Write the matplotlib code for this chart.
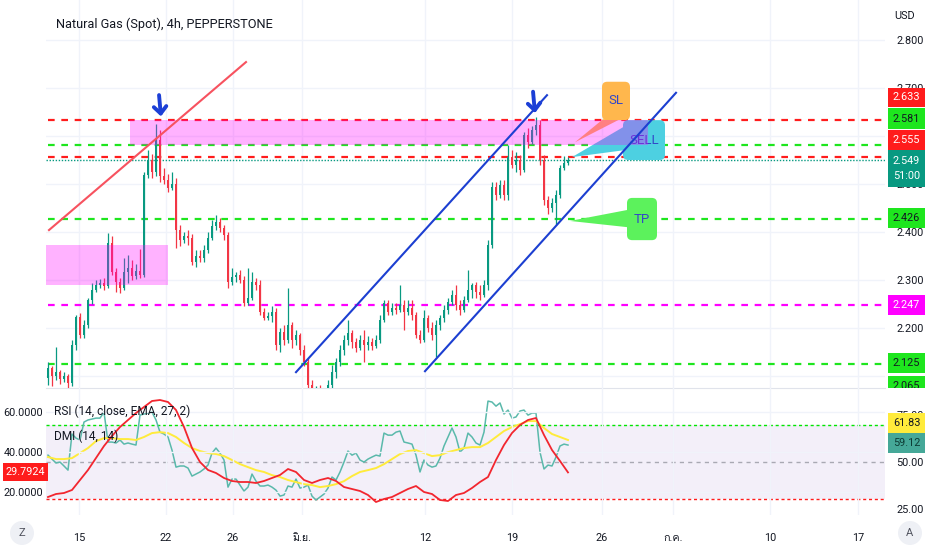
import numpy as np
import matplotlib
matplotlib.use('Agg')
import matplotlib.pyplot as plt
from matplotlib import font_manager
from matplotlib.ft2font import FT2Font
from matplotlib.patches import Rectangle, Polygon, FancyBboxPatch, Ellipse
from matplotlib.transforms import Bbox

# find an installed family that can draw Thai month names
thai_family = None
for fe in font_manager.fontManager.ttflist:
    try:
        if 0x0E21 in FT2Font(fe.fname).get_charmap():
            thai_family = fe.name
            break
    except Exception:
        pass
families = ['Roboto', 'DejaVu Sans', 'Noto Sans']
if thai_family:
    families.append(thai_family)
plt.rcParams['font.family'] = families

# ---- price data (4h candles), open of each bar = previous close ----
first_open = 2.095
closes = [2.116, 2.099, 2.107, 2.093, 2.099, 2.084, 2.164, 2.222, 2.184, 2.205,
          2.257, 2.278, 2.289, 2.293, 2.286, 2.376, 2.316, 2.295, 2.282, 2.316,
          2.324, 2.307, 2.318, 2.309, 2.518, 2.549, 2.524, 2.591, 2.516, 2.507,
          2.491, 2.499, 2.403, 2.382, 2.391, 2.386, 2.336, 2.349, 2.345, 2.361,
          2.386, 2.412, 2.420, 2.407, 2.393, 2.295, 2.305, 2.309, 2.299, 2.251,
          2.262, 2.295, 2.289, 2.232, 2.220, 2.224, 2.232, 2.164, 2.191, 2.174,
          2.205, 2.174, 2.184, 2.153, 2.128, 2.080, 2.060, 2.070, 2.053, 2.066,
          2.080, 2.107, 2.128, 2.153, 2.174, 2.189, 2.170, 2.157, 2.174, 2.164,
          2.170, 2.162, 2.174, 2.216, 2.251, 2.232, 2.241, 2.236, 2.247, 2.232,
          2.241, 2.226, 2.184, 2.174, 2.220, 2.199, 2.184, 2.205, 2.220, 2.236,
          2.253, 2.268, 2.247, 2.236, 2.257, 2.278, 2.289, 2.274, 2.268, 2.289,
          2.372, 2.493, 2.476, 2.497, 2.476, 2.555, 2.539, 2.549, 2.528, 2.601,
          2.586, 2.611, 2.622, 2.549, 2.466, 2.449, 2.459, 2.476, 2.532, 2.543,
          2.549]
highs = [2.128, 2.120, 2.160, 2.111, 2.107, 2.103, 2.174, 2.226, 2.230, 2.216,
         2.262, 2.293, 2.299, 2.301, 2.303, 2.397, 2.391, 2.324, 2.303, 2.345,
         2.351, 2.341, 2.332, 2.364, 2.524, 2.570, 2.561, 2.624, 2.611, 2.532,
         2.520, 2.524, 2.511, 2.414, 2.399, 2.403, 2.395, 2.361, 2.361, 2.372,
         2.399, 2.424, 2.434, 2.428, 2.414, 2.399, 2.324, 2.316, 2.320, 2.307,
         2.324, 2.316, 2.303, 2.299, 2.241, 2.232, 2.245, 2.241, 2.199, 2.205,
         2.282, 2.211, 2.195, 2.189, 2.164, 2.136, 2.091, 2.078, 2.080, 2.074,
         2.091, 2.122, 2.136, 2.164, 2.184, 2.216, 2.195, 2.178, 2.184, 2.195,
         2.182, 2.178, 2.184, 2.226, 2.257, 2.257, 2.251, 2.251, 2.289, 2.257,
         2.257, 2.257, 2.232, 2.195, 2.236, 2.226, 2.211, 2.216, 2.226, 2.247,
         2.262, 2.278, 2.289, 2.257, 2.266, 2.320, 2.293, 2.295, 2.289, 2.299,
         2.382, 2.503, 2.503, 2.507, 2.507, 2.580, 2.570, 2.566, 2.559, 2.607,
         2.616, 2.620, 2.639, 2.632, 2.559, 2.474, 2.470, 2.486, 2.539, 2.557,
         2.555]
lows = [2.080, 2.078, 2.091, 2.082, 2.087, 2.074, 2.078, 2.153, 2.178, 2.178,
        2.199, 2.249, 2.274, 2.282, 2.278, 2.282, 2.309, 2.274, 2.272, 2.278,
        2.293, 2.299, 2.301, 2.303, 2.305, 2.511, 2.511, 2.516, 2.503, 2.499,
        2.482, 2.486, 2.366, 2.370, 2.376, 2.372, 2.330, 2.326, 2.336, 2.336,
        2.355, 2.382, 2.403, 2.399, 2.382, 2.282, 2.289, 2.295, 2.293, 2.245,
        2.247, 2.257, 2.278, 2.226, 2.216, 2.216, 2.211, 2.153, 2.149, 2.164,
        2.168, 2.157, 2.164, 2.143, 2.120, 2.066, 2.049, 2.045, 2.039, 2.043,
        2.053, 2.070, 2.095, 2.120, 2.143, 2.164, 2.157, 2.149, 2.153, 2.128,
        2.153, 2.153, 2.157, 2.168, 2.211, 2.226, 2.226, 2.228, 2.232, 2.195,
        2.226, 2.216, 2.178, 2.168, 2.170, 2.191, 2.174, 2.139, 2.195, 2.211,
        2.228, 2.247, 2.236, 2.226, 2.232, 2.253, 2.262, 2.262, 2.257, 2.264,
        2.278, 2.366, 2.466, 2.470, 2.466, 2.466, 2.532, 2.524, 2.518, 2.524,
        2.574, 2.582, 2.601, 2.539, 2.455, 2.436, 2.441, 2.414, 2.470, 2.528,
        2.539]

# ---- indicators ----
rsi = [53.7, 51.6, 49.5, 50.0, 47.9, 45.7, 65.0, 62.8, 61.8, 71.4,
       72.5, 73.0, 73.5, 73.5, 76.7, 60.7, 60.7, 60.2, 61.8, 59.6,
       60.2, 59.6, 59.1, 75.1, 75.7, 76.2, 76.7, 72.5, 66.0, 65.0,
       63.4, 56.4, 47.3, 47.9, 47.9, 46.8, 42.5, 43.6, 44.7, 46.3,
       48.4, 54.8, 57.5, 54.8, 51.1, 36.6, 40.9, 40.9, 37.7, 34.5,
       36.6, 43.6, 39.8, 37.2, 37.2, 37.7, 36.6, 35.0, 31.8, 32.4,
       37.2, 36.6, 40.9, 36.1, 36.6, 37.7, 31.8, 29.7, 31.3, 32.9,
       36.1, 42.0, 40.4, 44.7, 50.0, 55.9, 53.7, 54.8, 51.1, 50.0,
       51.6, 52.7, 53.7, 53.2, 65.5, 64.4, 64.4, 66.0, 66.6, 60.7,
       60.2, 59.6, 53.7, 44.7, 51.1, 48.4, 47.3, 47.9, 52.1, 58.6,
       63.4, 68.2, 63.4, 55.3, 57.5, 65.5, 63.4, 60.2, 59.1, 66.0,
       82.6, 82.1, 79.9, 81.6, 75.7, 77.8, 73.5, 74.1, 77.3, 77.8,
       75.1, 76.2, 76.2, 55.3, 46.3, 48.4, 47.9, 52.7, 58.6, 59.6,
       59.1]
# every second bar
rsi_ema = [52.7, 51.6, 51.6, 52.1, 54.8, 57.5, 61.2, 62.8, 62.8, 62.3,
           62.3, 61.8, 63.4, 65.5, 66.0, 65.5, 63.4, 60.2, 57.5, 55.9,
           54.8, 54.3, 53.2, 51.1, 48.9, 47.3, 45.7, 44.7, 43.0, 42.0,
           40.4, 39.3, 38.2, 37.7, 36.6, 37.2, 38.2, 39.8, 42.5, 44.7,
           45.7, 46.8, 48.9, 51.6, 54.3, 55.9, 56.4, 54.8, 53.2, 53.7,
           55.3, 56.4, 57.5, 58.0, 58.0, 60.2, 63.4, 66.6, 68.7, 70.3,
           71.9, 71.9, 68.2, 65.0, 63.4, 61.8]
adx = [17.5, 19.0, 19.5, 21.0, 26.0, 31.0, 37.0, 43.0, 48.0, 52.5,
       56.0, 59.5, 62.5, 65.5, 66.0, 65.0, 61.0, 52.5, 42.0, 35.0,
       31.0, 29.5, 27.0, 25.5, 25.0, 25.0, 24.5, 25.5, 27.0, 28.5,
       31.5, 30.0, 26.0, 24.5, 26.0, 27.0, 25.5, 22.5, 21.5, 20.5,
       18.5, 15.0, 16.5, 17.5, 19.5, 21.5, 23.0, 20.0, 19.0, 16.0,
       15.5, 18.5, 19.5, 22.0, 25.0, 27.5, 36.0, 43.5, 49.5, 53.5,
       56.0, 57.0, 48.5, 41.0, 35.5, 29.8]

date_pos = [7.75, 29.5, 46.25, 63.5, 94.25, 116, 138.5, 156.25, 180.5, 202.5]
date_labels = ['15', '22', '26', 'มิ.ย.', '12', '19', '26', 'ก.ค.', '10', '17']

price_ticks = [2.1, 2.2, 2.3, 2.4, 2.5, 2.6, 2.7, 2.8]
levels = [2.633, 2.581, 2.555, 2.426, 2.247, 2.125]
level_kind = ['red', 'green', 'red', 'green', 'magenta', 'green']
last_price = 2.549

red_trend = ([0.25, 49.5], [2.403, 2.753])
channel_top = ([62, 124.75], [2.107, 2.684])
channel_bottom = ([94.25, 157], [2.109, 2.689])

UP, DOWN = '#089981', '#f23645'
LRED, LGREEN, LMAG = '#ff1c1c', '#1ee61e', '#ff00ff'
kind_color = {'red': LRED, 'green': LGREEN, 'magenta': LMAG}
TXT = '#131722'
GRID = '#f0f3fa'
W, H = 932, 550

fig = plt.figure(figsize=(W / 100, H / 100), dpi=100)
fig.patch.set_facecolor('white')


def fx(px):
    return px / W


def fy(py):
    return 1 - py / H


ax = fig.add_axes([fx(46), fy(388), 839 / W, 388 / H])
ax2 = fig.add_axes([fx(46), fy(515), 839 / W, 127 / H])
ax3 = ax2.twinx()

n = len(closes)
x = np.arange(n)
c = np.array(closes)
o = np.array([first_open] + closes[:-1])
hi = np.array(highs)
lo = np.array(lows)
col = np.where(c >= o, UP, DOWN)

xlim = (-0.5, 209.25)
for a in (ax, ax2):
    a.set_xlim(*xlim)
    a.set_xticks(date_pos)
    a.grid(True, color=GRID, lw=1)
    a.set_axisbelow(True)
    for s in a.spines.values():
        s.set_visible(False)

# ---- main pane ----
ax.set_ylim(2.074, 2.8823)
ax.yaxis.tick_right()
ax.set_yticks(price_ticks)
# 2.100 and 2.600 sit fully behind the level tags, as on the original
ax.set_yticklabels(['' if v in (2.1, 2.6) else '%.3f' % v for v in price_ticks])
ax.tick_params(axis='y', length=0, pad=8, labelsize=7.8, labelcolor=TXT)
ax.tick_params(axis='x', length=0, labelbottom=False)
ax.spines['bottom'].set_visible(True)
ax.spines['bottom'].set_color('#e0e3eb')


def callout(x0, x1, y0, y1, tip, base, color, label):
    ax.add_patch(Polygon([tip, base[0], base[1]], closed=True, fc=color, ec='none', zorder=5))
    ax.add_patch(FancyBboxPatch((x0, y0), x1 - x0, y1 - y0,
                                boxstyle='round,pad=0,rounding_size=1.3',
                                mutation_aspect=0.0083, fc=color, ec='none', zorder=5))
    ax.text((x0 + x1) / 2, (y0 + y1) / 2, label, ha='center', va='center',
            color='#3247c8', fontsize=9.5, zorder=6)


callout(138.5, 145.5, 2.632, 2.712, (131.75, 2.586), [(138.75, 2.634), (143, 2.634)], '#ffb74d', 'SL')
callout(143.75, 154.25, 2.549, 2.632, (131.0, 2.555), [(143.9, 2.618), (144.6, 2.570)], '#4dd0e1', 'SELL')
callout(144.75, 152.25, 2.382, 2.470, (130.5, 2.422), [(144.9, 2.445), (144.9, 2.409)], '#5cf25c', 'TP')

# zones
ax.add_patch(Rectangle((20.5, 2.581), 129.5, 0.052, fc='#ff00ff', alpha=0.3, ec='none', zorder=7))
ax.add_patch(Rectangle((-0.5, 2.289), 30.5, 0.083, fc='#ff00ff', alpha=0.3, ec='none', zorder=7))

for lv, k in zip(levels, level_kind):
    ax.plot([0, xlim[1]], [lv, lv], color=kind_color[k], lw=1.6, ls=(0, (3, 3)), zorder=2)
ax.axhline(last_price, color=UP, lw=1, ls=(0, (1, 1.2)), zorder=2)

ax.vlines(x, lo, hi, colors=col, lw=0.9, zorder=3)
ax.bar(x, np.maximum(np.abs(c - o), 0.0015), bottom=np.minimum(o, c), width=0.62,
       color=col, lw=0, zorder=4)

ax.plot(*red_trend, color='#f7525f', lw=1.5, zorder=8)
ax.plot(*channel_top, color='#1c3fd1', lw=1.5, zorder=8)
ax.plot(*channel_bottom, color='#1c3fd1', lw=1.5, zorder=8)

for xa, top, bot in [(28, 2.690, 2.634), (121.5, 2.697, 2.641)]:
    ax.annotate('', xy=(xa + 0.3, bot), xytext=(xa - 0.3, top),
                arrowprops=dict(arrowstyle='->,head_length=0.5,head_width=0.45',
                                color='#1c3fd6', lw=2.8), zorder=9)

# ---- indicator pane ----
ax3.set_ylim(21.7, 89.6)
ax2.set_ylim(8.5, 72)
ax3.axhspan(30, 70, color='#7e57c2', alpha=0.09, lw=0)
ax3.axhline(70, color='#00e600', lw=1, ls=(0, (2.2, 2)))
ax3.axhline(50, color='#a9a9b3', lw=1, ls=(0, (3, 3)))
ax3.axhline(30, color='#ff1a1a', lw=1, ls=(0, (2.2, 2)))
ax3.plot(x, rsi, color='#5ab9ab', lw=1.1)
ax3.plot(x[::2], rsi_ema, color='#ffeb3b', lw=1.4)
ax2.plot(x[::2], adx, color='#f2262f', lw=1.3, zorder=5)
ax2.set_zorder(ax3.get_zorder() + 1)
ax2.patch.set_visible(False)
for s in ax3.spines.values():
    s.set_visible(False)

ax2.set_yticks([20, 40, 60])
ax2.set_yticklabels(['20.0000', '40.0000', '60.0000'])
ax2.tick_params(axis='y', length=0, pad=2, labelsize=7.8, labelcolor=TXT)
ax3.set_yticks([25, 50, 75])
ax3.set_yticklabels(['25.00', '50.00', '75.00'])
ax3.tick_params(axis='y', length=0, pad=8, labelsize=7.8, labelcolor=TXT)
ax2.set_xticklabels(date_labels)
ax2.tick_params(axis='x', length=0, pad=13, labelsize=7.8, labelcolor=TXT)

ax2.text(1.5, 60.3, 'RSI (14, close, EMA, 27, 2)', fontsize=8.6, color=TXT,
         va='center', ha='left', zorder=10)
ax2.text(1.5, 47.8, 'DMI (14, 14)', fontsize=8.6, color=TXT,
         va='center', ha='left', zorder=10)

# ---- header and scale tags ----
fig.text(fx(56), fy(24), 'Natural Gas (Spot), 4h, PEPPERSTONE', fontsize=9.2,
         color=TXT, va='center', ha='left')
fig.text(fx(905), fy(16), 'USD', fontsize=7.8, color=TXT, va='center', ha='center')


def tag(x0, x1, y0, y1, bg, text, fg):
    fig.add_artist(Rectangle((fx(x0), fy(y1)), (x1 - x0) / W, (y1 - y0) / H,
                             transform=fig.transFigure, fc=bg, ec='none'))
    return fig.text(fx((x0 + x1) / 2), fy((y0 + y1) / 2), text, ha='center',
                    va='center', fontsize=7.8, color=fg, linespacing=1.6)


tag(888, 925, 88, 107, LRED, '2.633', 'white')
tag(888, 925, 108, 129, LGREEN, '2.581', TXT)
tag(888, 925, 130, 150, LRED, '2.555', 'white')
tag(888, 925, 150, 187, UP, '2.549\n51:00', 'white')
tag(888, 925, 208, 228, LGREEN, '2.426', TXT)
tag(888, 925, 295, 315, LMAG, '2.247', 'white')
tag(888, 925, 353, 373, LGREEN, '2.125', TXT)
tag(888, 925, 376, 388, LGREEN, '', TXT)
t = fig.text(fx(906.5), fy(386), '2.065', ha='center', va='center', fontsize=7.8, color=TXT)
t.set_clip_on(True)
t.set_clip_box(Bbox([[888, H - 388], [925, H - 376]]))

tag(888, 925, 413, 433, '#ffeb3b', '61.83', TXT)
tag(888, 925, 433, 453, '#45a898', '59.12', '#0d3b34')
tag(3, 48, 463, 481, '#ff1c1c', '29.7924', 'white')

for cx, letter in [(22, 'Z'), (910, 'A')]:
    fig.add_artist(Ellipse((fx(cx), fy(533)), 24 / W, 24 / H, transform=fig.transFigure,
                           fc='#eef0f5', ec='none'))
    fig.text(fx(cx), fy(533), letter, ha='center', va='center', fontsize=8, color='#50535e')

fig.savefig('out.png', dpi=100)
